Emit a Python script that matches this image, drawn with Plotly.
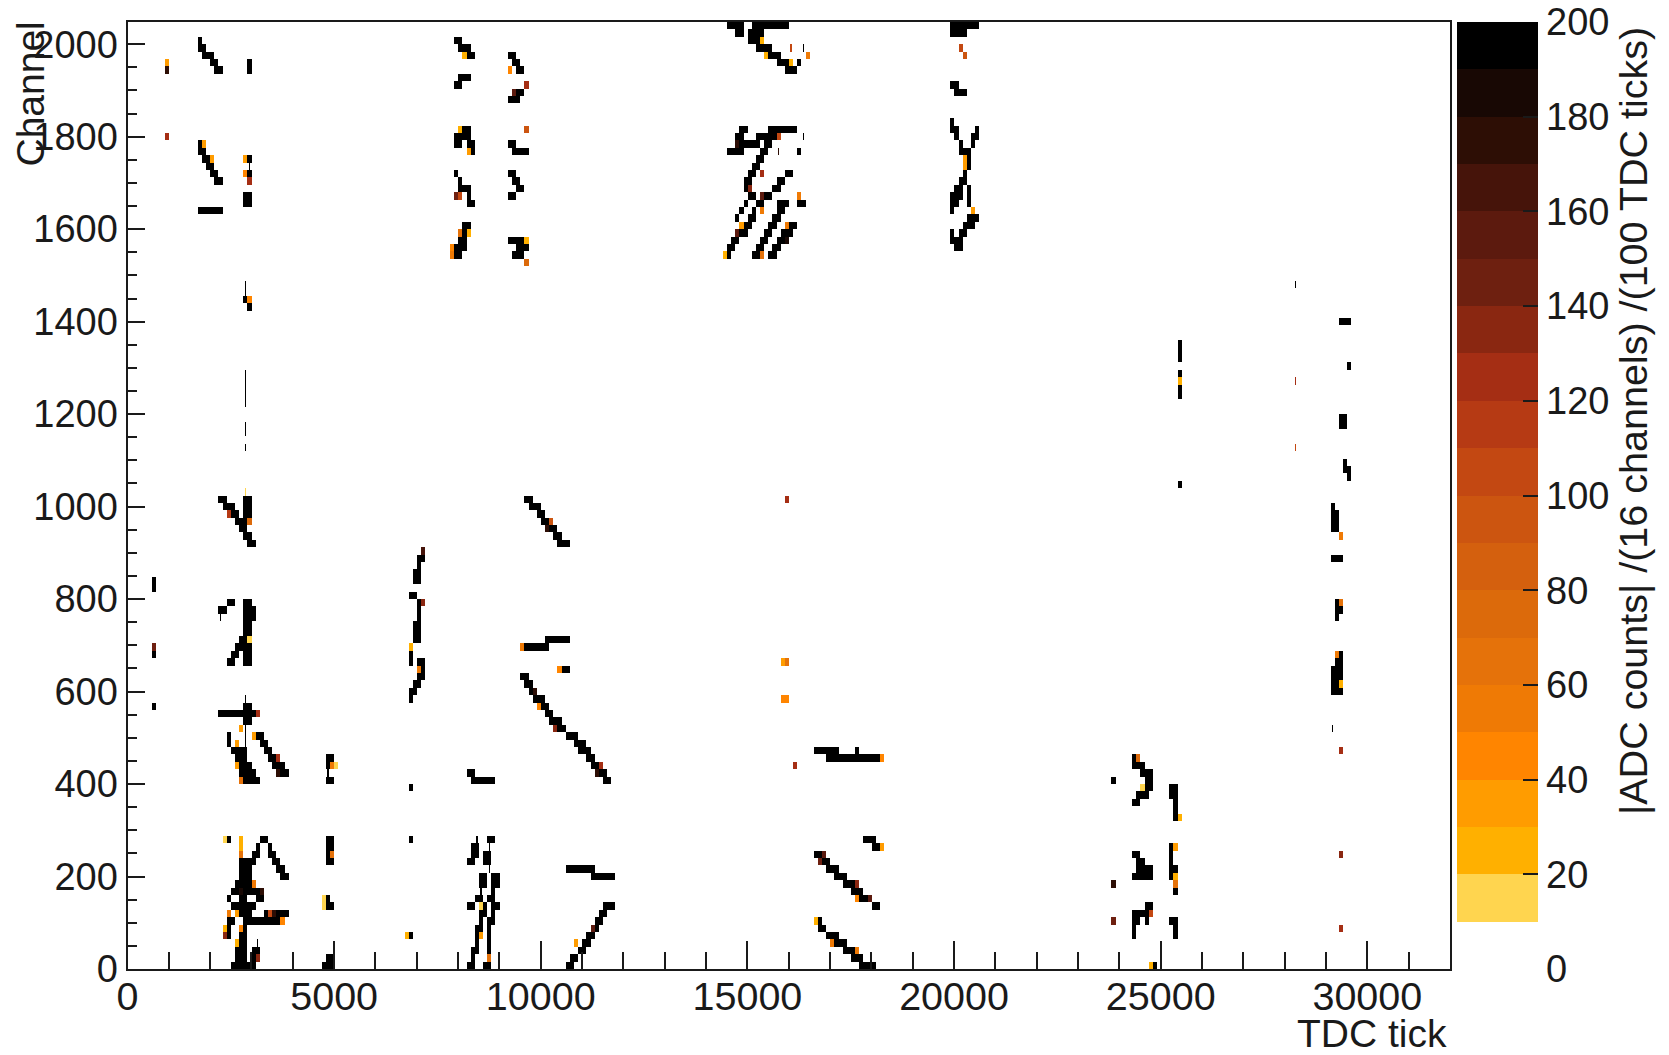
import numpy as np
import plotly.graph_objects as go

# Histogram binning of the picture
tick_bin = 100
channel_bin = 16
n_tick_bins = 320
n_channel_bins = 128

axis_ticks_x = [0, 5000, 10000, 15000, 20000, 25000, 30000]
axis_ticks_y = [0, 200, 400, 600, 800, 1000, 1200, 1400, 1600, 1800, 2000]
colorbar_ticks = [0, 20, 40, 60, 80, 100, 120, 140, 160, 180, 200]

# 20 palette levels, 0-10 first, 190-200 last
palette = ["#FFFFFF", "#FFD54F", "#FFB000", "#FF9C00", "#FF8500", "#EF7A05", "#E5720A", "#DC6A0B", "#D4600E", "#CC5510",
           "#C34812", "#B63A14", "#A52E14", "#8A2711", "#6E2010", "#5C1A0E", "#46140A", "#2D0E05", "#180804", "#000000"]

saturated_adc = 195

# saturated runs: (channel bin, first tick bin, last tick bin)
saturated_runs = [
    (0,25,30),(0,47,49),(0,82,83),(0,86,87),(0,106,107),(0,177,180),(0,248,248),
    (1,26,28),(1,30,30),(1,48,49),(1,83,83),(1,87,87),(1,107,108),(1,175,177),
    (2,26,28),(2,30,31),(2,83,84),(2,87,87),(2,109,110),(2,173,175),
    (3,27,28),(3,84,84),(3,87,87),(3,110,111),(3,171,173),
    (4,24,24),(4,27,28),(4,68,68),(4,84,84),(4,87,87),(4,111,112),(4,169,171),(4,243,243),(4,253,253),
    (5,24,24),(5,28,28),(5,84,85),(5,87,87),(5,112,113),(5,167,168),(5,243,243),(5,253,253),
    (6,24,25),(6,28,36),(6,85,85),(6,87,88),(6,113,114),(6,166,167),(6,243,244),(6,246,246),(6,252,253),
    (7,27,29),(7,33,33),(7,36,38),(7,85,86),(7,88,88),(7,114,115),(7,243,246),
    (8,25,30),(8,48,49),(8,82,83),(8,86,86),(8,88,89),(8,115,117),(8,180,181),(8,246,247),
    (9,24,24),(9,27,28),(9,31,32),(9,48,48),(9,84,85),(9,87,88),(9,177,178),
    (10,25,26),(10,28,31),(10,88,88),(10,175,177),(10,253,253),
    (11,26,29),(11,85,86),(11,88,89),(11,173,175),
    (12,27,29),(12,37,38),(12,85,86),(12,88,89),(12,112,117),(12,171,173),(12,243,247),(12,252,252),
    (13,27,29),(13,36,37),(13,106,112),(13,169,171),(13,244,247),(13,252,253),
    (14,27,30),(14,35,36),(14,48,49),(14,82,83),(14,86,87),(14,168,169),(14,244,245),(14,252,252),
    (15,30,31),(15,34,35),(15,48,48),(15,83,84),(15,86,87),(15,166,167),(15,243,244),(15,252,252),
    (16,31,31),(16,34,34),(16,48,49),(16,83,84),(16,180,181),(16,252,252),
    (17,24,24),(17,32,33),(17,48,49),(17,68,68),(17,87,88),(17,178,180),
    (20,253,253),(21,253,253),(22,243,244),(22,253,253),(23,244,246),(23,252,253),
    (24,68,68),(24,246,247),(24,252,253),
    (25,28,31),(25,48,49),(25,83,88),(25,115,116),(25,238,238),(25,246,247),
    (26,27,30),(26,37,38),(26,82,83),(26,114,115),(26,245,247),
    (27,27,29),(27,35,37),(27,48,48),(27,112,113),(27,243,245),
    (28,26,28),(28,34,35),(28,48,49),(28,111,112),(28,169,181),(28,243,243),
    (29,25,28),(29,33,34),(29,109,111),(29,166,171),(29,176,176),
    (30,24,24),(30,32,33),(30,108,110),
    (31,24,24),(31,31,32),(31,106,108),
    (32,104,105),
    (33,28,29),(33,102,104),(34,22,30),(34,101,102),
    (35,6,6),(35,28,29),(35,100,101),(36,68,68),(36,98,100),
    (37,68,69),(37,97,97),(37,291,293),(38,69,70),(38,96,97),(38,291,292),
    (39,70,71),(39,95,96),(39,291,293),(40,71,71),(40,105,106),(40,291,293),
    (41,24,25),(41,28,29),(41,68,68),(41,70,71),(41,292,293),
    (42,25,26),(42,28,29),(42,68,68),(42,293,293),
    (43,26,29),(43,96,101),(44,27,28),(44,69,70),(44,101,106),
    (45,28,29),(45,69,70),(46,28,29),(46,69,70),(47,28,30),(47,70,70),(47,292,292),
    (48,22,23),(48,28,30),(48,70,70),(48,292,293),
    (49,24,25),(49,28,29),(49,70,70),(49,292,292),
    (50,68,69),(51,6,6),(52,6,6),(52,69,70),(53,69,70),(54,70,70),(55,70,71),(55,291,293),
    (57,29,30),(57,104,106),(58,28,29),(58,103,104),
    (59,27,28),(59,102,103),(59,291,292),(60,26,27),(60,28,28),(60,100,101),(60,291,292),
    (61,25,26),(61,28,29),(61,99,100),(61,291,292),(62,23,25),(62,28,29),(62,97,99),(62,291,291),
    (63,22,23),(63,28,29),(63,96,97),
    (65,254,254),(66,295,295),(67,294,295),(68,294,294),
    (73,293,294),(74,293,294),(77,254,254),(78,254,254),(80,254,254),(81,295,295),
    (82,254,254),(83,254,254),(84,254,254),(87,293,295),(89,29,29),(90,28,28),
    (96,79,80),(96,93,95),(96,145,145),(96,151,152),(96,155,156),
    (97,79,81),(97,94,96),(97,145,146),(97,152,153),(97,156,157),(97,200,201),
    (98,80,81),(98,92,95),(98,146,147),(98,153,154),(98,157,158),(98,199,201),
    (99,81,81),(99,148,149),(99,154,155),(99,158,160),(99,199,199),(99,201,202),
    (100,81,82),(100,149,150),(100,155,156),(100,160,161),(100,202,204),
    (101,147,147),(101,150,151),(101,156,157),(101,203,205),
    (102,17,22),(102,148,148),(102,151,151),(102,157,158),(102,199,199),
    (103,28,29),(103,82,83),(103,149,149),(103,152,153),(103,157,159),(103,162,163),(103,199,200),(103,203,203),
    (104,28,29),(104,82,82),(104,92,93),(104,150,151),(104,154,155),(104,199,201),(104,203,203),
    (105,80,82),(105,94,95),(105,149,149),(105,156,157),(105,200,201),(105,203,203),
    (106,21,22),(106,80,80),(106,93,94),(106,149,150),(106,157,158),(106,201,202),
    (107,20,21),(107,29,29),(107,79,79),(107,92,93),(107,150,151),(107,159,160),(107,202,202),
    (108,19,20),(108,151,152),(108,203,203),
    (109,18,19),(109,29,29),(109,152,153),(109,203,203),
    (110,17,18),(110,83,83),(110,93,96),(110,145,148),(110,153,154),(110,162,162),(110,201,202),(110,203,203),
    (111,17,17),(111,79,80),(111,82,83),(111,92,93),(111,148,152),(111,154,155),(111,201,201),(111,204,204),
    (112,79,82),(112,147,148),(112,152,156),(112,200,200),(112,204,205),
    (113,81,82),(113,148,149),(113,155,161),(113,199,200),(113,205,205),
    (114,199,199),
    (117,92,94),(118,94,95),(118,200,202),(119,79,80),(119,199,200),
    (120,80,82),(121,21,22),(121,29,29),(121,94,95),(121,159,161),
    (122,20,21),(122,29,29),(122,93,94),(122,157,159),(122,162,162),
    (123,18,20),(123,82,83),(123,92,93),(123,155,157),
    (124,17,18),(124,80,82),(124,152,155),(125,17,17),(125,79,80),(125,150,152),
    (126,147,148),(126,150,153),(126,199,202),(127,145,148),(127,151,159),(127,199,205),
]

# coloured cells: (channel bin, tick bin, adc)
coloured_cells = [
    (5,23,25),(4,23,130),(5,27,45),(3,26,20),(6,37,45),(7,24,55),(7,26,35),(7,34,110),(7,35,170),(8,47,15),(9,47,15),(8,85,15),
    (10,27,180),(10,32,170),(11,30,50),(15,27,60),(15,49,60),(16,27,25),(17,23,15),(17,27,25),
    (27,26,30),(30,26,35),(31,30,30),(32,27,30),(25,27,60),(28,36,125),(26,36,170),(34,31,125),
    (27,49,55),(27,50,15),(1,31,130),(3,108,30),(5,112,150),(4,67,25),(4,85,30),(1,87,60),
    (37,98,175),(35,99,45),(32,103,130),(27,114,125),(26,113,170),(40,70,55),(40,104,40),
    (41,158,35),(41,159,60),(36,158,40),(36,159,40),(28,182,45),(27,161,120),
    (16,182,30),(15,168,150),(14,167,140),(11,176,130),(9,176,45),(9,179,150),(6,166,25),(3,170,50),(2,176,50),
    (60,29,70),(61,24,115),(44,29,15),(43,6,140),(42,6,195),(43,68,25),(56,71,160),(49,71,130),
    (60,102,90),(59,101,170),(43,95,50),(122,9,30),(121,9,170),(112,9,125),(111,18,30),(109,20,30),
    (109,28,30),(107,28,40),(106,29,125),(123,81,20),(121,92,40),(119,96,125),(118,93,150),(113,96,90),
    (113,80,20),(110,82,30),(104,79,140),(104,80,110),(99,80,65),(99,82,25),(97,78,40),(96,78,55),
    (98,96,20),(95,96,75),(125,153,20),(123,154,20),(123,164,50),(122,160,20),(112,157,110),(111,147,170),
    (107,153,125),(105,150,130),(104,153,150),(104,162,55),(102,153,55),(100,148,30),(100,159,50),
    (99,147,150),(98,159,180),(96,144,20),(96,153,60),(63,159,120),
    (124,201,110),(123,202,90),(109,202,35),(108,202,35),(102,204,30),(28,244,70),(24,245,15),(11,238,175),(7,247,110),
    (6,238,140),(0,247,25),(20,254,25),(16,253,30),(12,253,25),(11,253,60),(79,254,25),
    (5,293,125),(15,293,130),(29,293,125),(38,293,25),(42,292,50),(49,293,60),(58,293,50),(90,29,40),
]

# narrow marks, a third of a bin wide: (channel bin, tick bin, adc)
narrow_cells = [
    (36,28,195),(32,28,195),(31,28,195),(30,28,195),(26,48,195),(16,87,195),(13,87,195),(10,85,195),(17,84,195),
    (64,28,15),(70,28,195),(72,28,195),(73,28,195),(76,28,195),(77,28,195),(78,28,195),(79,28,195),(80,28,195),
    (91,28,195),(92,28,195),(47,22,195),(124,160,110),(124,163,195),(112,163,195),(110,157,170),(108,29,195),
    (92,282,195),(79,282,125),(70,282,110),(32,291,195),(3,31,195),
]

z_main = np.full((n_channel_bins, n_tick_bins), np.nan)
for row, first, last in saturated_runs:
    z_main[row, first:last + 1] = saturated_adc
for row, col, adc in coloured_cells:
    z_main[row, col] = adc

z_narrow = np.full((n_channel_bins, n_tick_bins * 3), np.nan)
for row, col, adc in narrow_cells:
    z_narrow[row, col * 3 + 1] = adc

colorscale = []
for i, c in enumerate(palette):
    colorscale += [[i / 20, c], [(i + 1) / 20, c]]

W, H = 1669, 1055
L, R, T, B = 127.5, 1450, 22, 969
FONT = "Liberation Sans"
INK = "#1a1a1a"

fig = go.Figure()
fig.add_trace(go.Heatmap(z=z_main, x0=tick_bin / 2, dx=tick_bin, y0=channel_bin / 2, dy=channel_bin,
                         coloraxis="coloraxis", hoverongaps=False))
fig.add_trace(go.Heatmap(z=z_narrow, x0=tick_bin / 6, dx=tick_bin / 3, y0=channel_bin / 2, dy=channel_bin,
                         coloraxis="coloraxis", hoverongaps=False))


def axis(domain, rng, ticks, minor, major_len, minor_len, label_size, standoff):
    return dict(domain=domain, range=rng, tickmode="array", tickvals=ticks, ticktext=[str(t) for t in ticks],
                ticks="inside", ticklen=major_len, automargin=False, ticklabelstandoff=standoff,
                tickwidth=2, tickcolor=INK, showgrid=False, zeroline=False, showline=True, linewidth=2, linecolor=INK,
                mirror=True, tickfont=dict(family=FONT, size=label_size, color=INK),
                minor=dict(dtick=minor, ticks="inside", ticklen=minor_len, tickwidth=2, tickcolor=INK, showgrid=False))


fig.update_layout(
    width=W, height=H, margin=dict(l=0, r=0, t=0, b=0, autoexpand=False), paper_bgcolor="white", plot_bgcolor="white",
    xaxis=axis([L / W, R / W], [0, 32000], axis_ticks_x, 1000, 28, 17, 39.5, -8),
    yaxis=axis([1 - B / H, 1 - T / H], [0, 2048], axis_ticks_y, 50, 17, 9, 38, 0),
    coloraxis=dict(
        cmin=0, cmax=200, colorscale=colorscale,
        colorbar=dict(x=1457 / W, xanchor="left", y=1 - B / H, yanchor="bottom", len=(B - T) / H, lenmode="fraction",
                      thickness=81, thicknessmode="pixels", xpad=0, ypad=0, tickmode="array", tickvals=colorbar_ticks,
                      ticks="inside", ticklen=15, tickwidth=2, tickcolor=INK, outlinewidth=0,
                      tickfont=dict(family=FONT, size=38, color=INK)),
    ),
    annotations=[
        dict(text="TDC tick", xref="paper", yref="paper", x=1449 / W, y=1 - 1033 / H, xanchor="right", yanchor="middle",
             showarrow=False, font=dict(family=FONT, size=39, color=INK)),
        dict(text="Channel", xref="paper", yref="paper", x=30 / W, y=1 - 20 / H, xanchor="center", yanchor="top",
             textangle=-90, showarrow=False, font=dict(family=FONT, size=39, color=INK)),
        dict(text="|ADC counts| /(16 channels) /(100 TDC ticks)", xref="paper", yref="paper", x=1633 / W, y=1 - 25 / H,
             xanchor="center", yanchor="top", textangle=-90, showarrow=False,
             font=dict(family=FONT, size=39.5, color=INK)),
    ],
)

fig.write_html("out.html", config={"displayModeBar": False}, post_script="document.body.style.margin='0';")
